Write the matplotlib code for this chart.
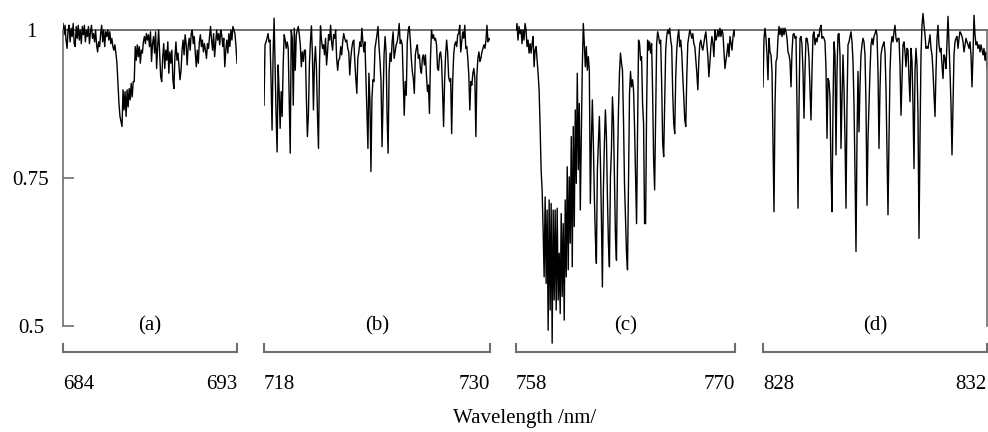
import matplotlib
matplotlib.use("Agg")
import matplotlib.pyplot as plt
import numpy as np

plt.rcParams['font.family'] = ['Liberation Serif', 'DejaVu Serif']
plt.rcParams['font.size'] = 15

# four windows of the transmittance spectrum
panel_names = ["(a)", "(b)", "(c)", "(d)"]
panel_ranges = [(684, 693), (718, 730), (758, 770), (828, 832)]

trans_a = [
    1.011, 0.992, 1.008, 0.983, 0.969, 1.000, 1.008, 0.980, 1.003, 0.989,
    1.011, 0.977, 0.972, 1.006, 0.986, 1.008, 0.983, 1.000, 0.977, 1.006,
    0.992, 1.008, 0.980, 1.000, 0.989, 1.006, 0.977, 0.997, 1.008, 0.986,
    0.994, 0.980, 1.000, 0.975, 0.963, 0.980, 0.972, 0.994, 1.008, 0.980,
    1.000, 0.972, 0.997, 0.989, 1.000, 0.983, 0.997, 0.977, 0.986, 0.972,
    0.966, 0.975, 0.961, 0.944, 0.910, 0.876, 0.854, 0.845, 0.837, 0.899,
    0.865, 0.896, 0.854, 0.899, 0.870, 0.901, 0.882, 0.910, 0.887, 0.913,
    0.913, 0.972, 0.949, 0.975, 0.955, 0.972, 0.944, 0.966, 0.961, 0.980,
    0.989, 0.977, 0.994, 0.983, 0.992, 0.972, 0.997, 0.947, 0.977, 0.989,
    0.961, 0.997, 0.935, 0.972, 1.000, 0.961, 0.921, 0.913, 0.955, 0.977,
    0.935, 0.966, 0.949, 0.980, 0.927, 0.963, 0.944, 0.966, 0.916, 0.901,
    0.955, 0.980, 0.949, 0.961, 0.938, 0.916, 0.932, 0.966, 0.983, 0.958,
    0.992, 0.977, 0.941, 0.972, 0.986, 0.966, 0.994, 1.000, 0.977, 0.989,
    0.961, 0.938, 0.966, 0.944, 0.980, 0.992, 0.972, 0.983, 0.963, 0.977,
    0.966, 0.952, 0.977, 0.969, 0.989, 1.006, 0.983, 0.966, 0.994, 0.955,
    0.977, 1.000, 0.983, 0.994, 0.975, 1.000, 0.992, 0.972, 0.986, 0.938,
    0.966, 0.983, 0.961, 0.994, 0.972, 1.000, 0.983, 1.006, 1.000, 0.994,
    0.972, 0.944,
]

trans_b = [
    0.873, 0.975, 0.980, 0.986, 0.994, 0.980, 0.983, 0.913, 0.831, 0.958,
    1.020, 0.941, 0.856, 0.794, 0.941, 0.896, 0.834, 0.896, 0.854, 0.941,
    0.992, 0.983, 0.969, 0.980, 0.969, 0.885, 0.792, 1.000, 0.986, 0.873,
    1.003, 0.932, 0.992, 1.000, 1.006, 0.992, 0.975, 0.938, 0.963, 0.947,
    0.966, 0.966, 0.885, 0.820, 0.856, 0.941, 0.980, 1.007, 0.958, 0.865,
    0.944, 0.972, 0.935, 0.856, 0.800, 0.941, 1.007, 0.983, 0.969, 0.975,
    0.958, 0.986, 0.941, 0.963, 0.992, 0.983, 1.008, 0.980, 0.966, 0.992,
    0.986, 1.000, 0.952, 0.932, 0.949, 0.952, 0.972, 0.958, 0.980, 0.994,
    0.986, 0.980, 0.983, 0.969, 0.963, 0.924, 0.952, 0.969, 0.980, 0.983,
    0.947, 0.918, 0.893, 0.952, 0.963, 0.980, 0.972, 1.003, 0.980, 0.963,
    0.980, 0.924, 0.862, 0.800, 0.927, 0.879, 0.761, 0.885, 0.916, 0.913,
    0.969, 0.980, 0.992, 1.006,
    0.972, 0.947, 0.913, 0.803, 0.885, 0.958, 0.989, 0.963, 0.856, 0.792,
    0.930, 0.961, 0.947, 0.980, 0.997, 0.952, 0.963, 0.975, 0.980, 0.992,
    1.011, 0.977, 0.983, 0.975, 0.913, 0.856, 0.913, 0.890, 0.980, 1.000,
    1.006, 0.983, 0.952, 0.930, 0.918, 0.893, 0.958, 0.969, 0.975, 0.952,
    0.958, 0.935, 0.927, 0.952, 0.958, 0.941, 0.958, 0.924, 0.896, 0.907,
    0.859, 0.952, 1.000, 0.986, 0.992, 0.983, 0.986, 0.975, 0.935, 0.932,
    0.958, 0.963, 0.947, 0.896, 0.837, 0.913, 0.958, 0.983, 0.963, 0.921,
    0.913, 0.918, 0.825, 0.913, 0.958, 0.975, 0.980, 0.972, 0.992, 0.994,
    1.008, 0.963, 0.980, 0.997, 0.986, 1.008, 0.969, 0.972, 0.952, 0.924,
    0.865, 0.913, 0.907, 0.927, 0.935, 0.918, 0.820, 0.924, 0.952, 0.963,
    0.947, 0.952, 0.963, 0.969, 0.975, 0.969, 0.983, 1.008, 0.980, 0.986,
    0.983,
]

trans_c = [
    1.000, 1.011, 0.983, 1.006, 0.994, 1.000, 0.977, 1.000, 0.983, 1.011,
    1.000, 0.972, 0.983, 0.961, 0.977, 0.961, 0.977, 0.989, 0.938, 0.966,
    0.972, 0.949, 0.927, 0.899, 0.837, 0.764, 0.730,
    0.662, 0.583, 0.718, 0.572, 0.696, 0.493, 0.713, 0.527, 0.707, 0.471,
    0.696, 0.544, 0.696, 0.527, 0.699, 0.544, 0.623, 0.521, 0.690, 0.550,
    0.673, 0.510, 0.713, 0.583, 0.769, 0.595, 0.752, 0.640, 0.820, 0.600,
    0.837, 0.668, 0.865, 0.741, 0.927, 0.764, 0.876, 0.696, 0.814, 0.938,
    1.011, 0.977, 0.938, 0.972, 0.932, 0.955, 0.932, 0.707, 0.809, 0.882,
    0.809, 0.718, 0.651, 0.606, 0.764, 0.809, 0.854, 0.780, 0.685, 0.566,
    0.730, 0.809, 0.865, 0.820, 0.718, 0.640, 0.600, 0.752, 0.797, 0.887,
    0.848, 0.752, 0.651, 0.611, 0.769, 0.865, 0.927, 0.961, 0.944, 0.932,
    0.848, 0.741, 0.685, 0.623, 0.595, 0.752, 0.893, 0.930, 0.904, 0.916,
    0.899, 0.837, 0.752, 0.673, 0.820, 0.983, 0.977, 0.949, 0.955, 0.876,
    0.842, 0.673, 0.673, 0.865, 0.983, 0.966, 0.980, 0.961, 0.977, 0.893,
    0.780, 0.730, 0.854, 0.977, 0.997, 0.989, 0.977, 0.983, 0.910, 0.809,
    0.786, 0.876, 0.966, 0.989, 1.000, 0.994, 1.003, 0.983, 0.972, 0.893,
    0.842, 0.825, 0.921, 0.966, 0.989, 1.000, 0.972, 0.983, 0.961, 0.921,
    0.887, 0.848, 0.837, 0.921, 0.977, 0.989, 1.000, 0.994, 0.986, 0.994,
    0.977, 0.972, 0.949, 0.927, 0.899, 0.949, 0.977, 0.983, 0.972, 0.966,
    0.977, 0.989, 0.997, 0.977, 0.955, 0.921, 0.944, 0.972, 0.989, 0.977,
    0.955, 1.000, 0.983, 0.989, 1.000, 0.989, 1.003, 0.989, 1.000, 0.994,
    0.966, 0.935, 0.949, 0.961, 0.977, 0.955, 0.989, 0.977, 0.966, 0.989,
    1.000, 0.989,
]

trans_d = [
    0.904, 0.986, 1.003, 0.986, 0.958, 0.916, 0.986, 0.963, 0.958, 0.930,
    0.817, 0.693, 0.873, 0.947, 0.952, 0.986, 1.006, 0.992, 1.003, 0.989,
    1.003, 0.992, 1.003, 0.997, 0.986, 0.963, 0.958, 0.947, 0.904, 0.963,
    0.992, 0.994, 0.986, 0.989, 0.873, 0.699, 0.873, 0.986, 0.989, 0.975,
    0.930, 0.851, 0.930, 0.986, 0.986, 0.975, 0.952, 0.901, 0.848, 0.930,
    0.992, 0.997, 0.975, 0.986, 0.980, 0.992, 0.989, 1.003, 1.008, 0.986,
    0.989, 0.986, 0.980, 0.935, 0.817, 0.918, 0.913, 0.885, 0.761, 0.693,
    0.873, 0.980, 0.958, 0.789, 0.930, 0.992, 0.994, 0.958, 0.800, 0.885,
    0.958, 0.901, 0.817, 0.699, 0.873, 0.975, 0.980, 0.989, 0.997, 0.980,
    0.947, 0.873, 0.761, 0.626, 0.817, 0.930, 0.828, 0.907, 0.958, 0.975,
    0.986, 0.980, 0.958, 0.873, 0.704, 0.817, 0.873, 0.930, 0.975, 0.986,
    0.975, 0.989, 0.994, 1.000, 0.992, 0.930, 0.800, 0.901, 0.958, 0.969,
    0.975, 0.980, 0.963, 0.901, 0.789, 0.688, 0.817, 0.930, 0.975, 0.989,
    0.980, 0.997, 1.008, 0.986, 0.980, 0.986, 0.986, 0.941, 0.856, 0.913,
    0.975, 0.980, 0.963, 0.938, 0.969, 0.966, 0.918, 0.879, 0.969, 0.947,
    0.873, 0.766, 0.930, 0.969, 0.941, 0.856, 0.648, 0.817, 0.958, 1.008,
    1.028, 1.008, 0.992, 0.969, 0.972, 0.969, 0.980, 0.992, 0.969, 0.958,
    0.930, 0.890, 0.854, 0.930, 0.986, 1.008, 0.975, 0.963, 0.969, 0.941,
    0.918, 0.958, 0.952, 0.935, 0.980, 1.023, 0.975, 0.930, 0.873, 0.789,
    0.873, 0.958, 0.980, 0.986, 0.989, 0.969, 0.986, 0.997, 0.994, 0.989,
    0.980, 0.963, 0.975, 0.986, 0.980, 0.975, 0.969, 0.980, 0.958, 0.904,
    0.958, 1.025, 0.992, 0.975, 0.980, 0.969, 0.975, 0.963, 0.975, 0.966,
    0.958, 0.969, 0.949, 0.963, 0.935,
]

spectra = [trans_a, trans_b, trans_c, trans_d]
yticks = [0.5, 0.75, 1.0]
ytick_labels = ["0.5", "0.75", "1"]

# layout (figure pixels)
W, H = 988, 432
panel_px = [(63, 237), (264, 490), (516, 735), (763, 987)]
ylim = (0.321, 1.0507)
grey = "#6e6e6e"

fig = plt.figure(figsize=(W / 100, H / 100), dpi=100)

# reference line at 1 running across all windows
frame = fig.add_axes([63 / W, 0, 1 - 63 / W, 1])
frame.set_ylim(*ylim)
frame.axhline(1.0, color="#4a4a4a", lw=1.1)
frame.axis("off")

for i, (name, (lo, hi), vals, (l, r)) in enumerate(zip(panel_names, panel_ranges, spectra, panel_px)):
    ax = fig.add_axes([l / W, 0, (r - l) / W, 1])
    ax.patch.set_alpha(0)
    x = np.linspace(lo, hi, len(vals))
    ax.plot(x, vals, color="black", lw=1.0)
    ax.set_xlim(lo, hi)
    ax.set_ylim(*ylim)
    for s in ax.spines.values():
        s.set_visible(False)
    ax.set_xticks([])

    if i == 0:
        ax.spines["left"].set_visible(True)
        ax.spines["left"].set_bounds(0.5, 1.0)
        ax.spines["left"].set_color(grey)
        ax.spines["left"].set_linewidth(1.2)
        ax.set_yticks(yticks, ytick_labels)
        ax.tick_params(axis="y", direction="in", length=8, width=1.2,
                       color=grey, pad=23)
        for lbl in ax.get_yticklabels():
            lbl.set_horizontalalignment("center")
    else:
        ax.set_yticks([])
    if i == 3:
        ax.spines["right"].set_visible(True)
        ax.spines["right"].set_bounds(0.5, 1.0)
        ax.spines["right"].set_color(grey)
        ax.spines["right"].set_linewidth(1.2)

    # bracket under each window
    ax.plot([lo, lo, hi, hi], [0.470, 0.456, 0.456, 0.470], color=grey,
            lw=1.5, clip_on=False, solid_joinstyle="miter")
    ax.text(lo, 0.402, str(lo), ha="left", va="center")
    ax.text(hi, 0.402, str(hi), ha="right", va="center")
    ax.text((lo + hi) / 2, 0.5, name, ha="center", va="center")

fig.text(0.531, 1 - 418 / H, "Wavelength /nm/", ha="center", va="center")

fig.savefig("out.png", dpi=100)
